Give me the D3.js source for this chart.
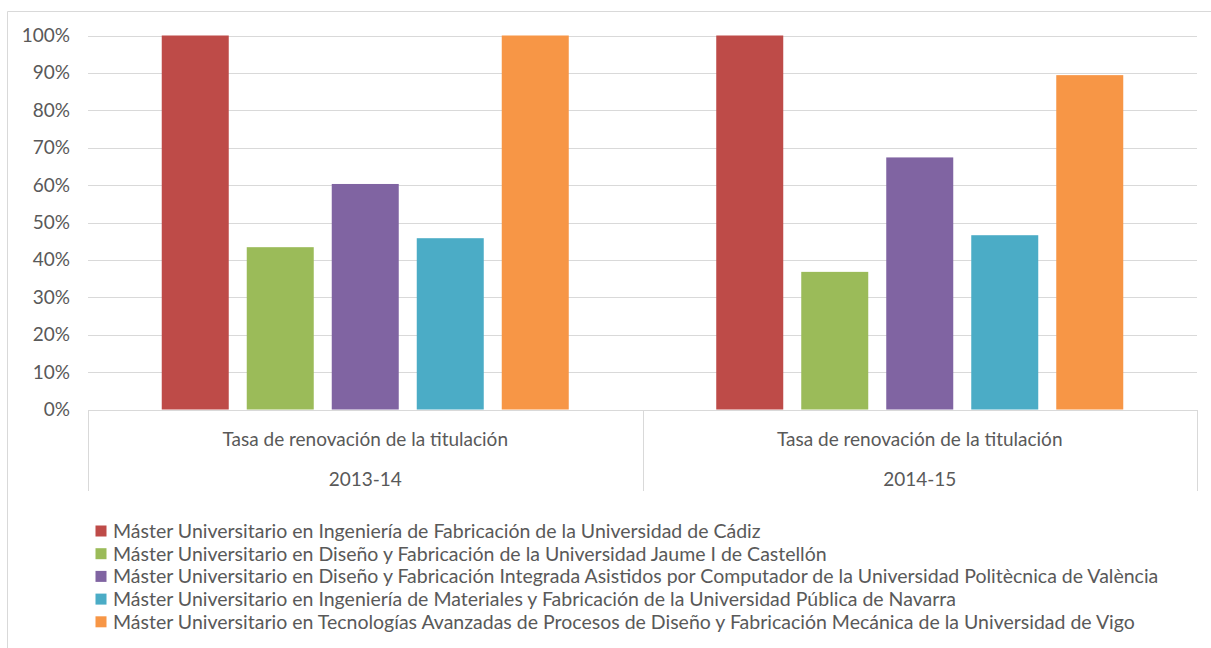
<!DOCTYPE html>
<html>
<head>
<meta charset="utf-8">
<script src="https://cdn.jsdelivr.net/npm/d3@7"></script>
<style>
  body { margin: 0; background: #fff; }
  svg { display: block; }
  text { font-family: Lato, "Open Sans", sans-serif; fill: #595959; }
</style>
</head>
<body>
<svg width="1211" height="648"></svg>
<script>
// data
var years = ["2013-14", "2014-15"]
var measure = "Tasa de renovación de la titulación"
var masters = [
  "Máster Universitario en Ingeniería de Fabricación de la Universidad de Cádiz",
  "Máster Universitario en Diseño y Fabricación de la Universidad Jaume I de Castellón",
  "Máster Universitario en Diseño y Fabricación Integrada Asistidos por Computador de la Universidad Politècnica de València",
  "Máster Universitario en Ingeniería de Materiales y Fabricación de la Universidad Pública de Navarra",
  "Máster Universitario en Tecnologías Avanzadas de Procesos de Diseño y Fabricación Mecánica de la Universidad de Vigo"
]
var rate1314 = [1.00, 0.434, 0.603, 0.458, 1.00]
var rate1415 = [1.00, 0.368, 0.674, 0.466, 0.894]
var yTicks = [0, 0.1, 0.2, 0.3, 0.4, 0.5, 0.6, 0.7, 0.8, 0.9, 1.0]
var colors = ["#be4b48", "#9bbb59", "#8064a2", "#4bacc6", "#f79646"]

var rows = years.map((y, i) => ({
  year: y,
  values: masters.map((m, j) => ({ key: m, value: (i == 0 ? rate1314 : rate1415)[j] }))
}))

var svg = d3.select("svg")

// chart area border (left + top only visible)
svg.append("path")
  .attr("d", "M7.5,648 V11.5 H1211")
  .attr("fill", "none").attr("stroke", "#d9d9d9")

var xScale = d3.scaleBand().domain(years).range([88, 1197])
var xInner = d3.scaleBand().domain(masters).range([0, xScale.bandwidth()])
  .paddingInner(0.2118).paddingOuter(0.8676)
var yScale = d3.scaleLinear().domain([0, 1]).range([409.5, 35.5])
var color = d3.scaleOrdinal().domain(masters).range(colors)

// gridlines
svg.append("g").selectAll("line")
  .data(yTicks.slice(1))
  .enter().append("line")
  .attr("x1", 88).attr("x2", 1197)
  .attr("y1", d => Math.round(yScale(d)) + 0.5)
  .attr("y2", d => Math.round(yScale(d)) + 0.5)
  .attr("stroke", "#d9d9d9")

// y axis labels
var yAxis = d3.axisLeft(yScale).tickValues(yTicks).tickFormat(d3.format(".0%")).tickSize(0).tickPadding(18)
svg.append("g").attr("id", "yAxis")
  .attr("transform", "translate(88,0)")
  .call(yAxis)
  .call(g => g.select(".domain").remove())
  .selectAll("text")
  .style("font-size", "19px").attr("fill", "#595959")

// bars
var groups = svg.append("g").selectAll("g")
  .data(rows)
  .enter().append("g")
  .attr("transform", d => "translate(" + xScale(d.year) + ",0)")
groups.selectAll("rect")
  .data(d => d.values)
  .enter().append("rect")
  .attr("x", d => xInner(d.key))
  .attr("width", xInner.bandwidth())
  .attr("y", d => yScale(d.value))
  .attr("height", d => yScale(0) - yScale(d.value))
  .attr("fill", d => color(d.key))

// category axis (two levels)
var xAxis = d3.axisBottom(xScale).tickSize(0).tickFormat(() => "")
svg.append("g").attr("id", "xAxis")
  .attr("transform", "translate(0,410)")
  .call(xAxis)
  .call(g => g.select(".domain").attr("stroke", "#d9d9d9").attr("d", "M88,0.5H1197"))
var dividers = [88, 1197].concat(years.slice(1).map(y => xScale(y)))
svg.append("g").selectAll("line")
  .data(dividers)
  .enter().append("line")
  .attr("x1", d => Math.round(d) + 0.5).attr("x2", d => Math.round(d) + 0.5)
  .attr("y1", 410).attr("y2", 491)
  .attr("stroke", "#d9d9d9")
var labels = svg.append("g").selectAll("g")
  .data(years)
  .enter().append("g")
labels.append("text")
  .attr("x", d => xScale(d) + xScale.bandwidth() / 2)
  .attr("y", 439).attr("dy", "0.35em")
  .attr("text-anchor", "middle").style("font-size", "19px")
  .text(measure)
labels.append("text")
  .attr("x", d => xScale(d) + xScale.bandwidth() / 2)
  .attr("y", 479).attr("dy", "0.35em")
  .attr("text-anchor", "middle").style("font-size", "19px")
  .text(d => d)

// legend
var legend = svg.append("g").selectAll("g")
  .data(masters)
  .enter().append("g")
  .attr("transform", (d, i) => "translate(95," + (531 + i * 22.7) + ")")
legend.append("rect")
  .attr("x", 0.5).attr("y", -5.5).attr("width", 11).attr("height", 11)
  .attr("fill", d => color(d))
legend.append("text")
  .attr("x", 18).attr("dy", "0.35em")
  .style("font-size", "19.5px")
  .text(d => d)
</script>
</body>
</html>
